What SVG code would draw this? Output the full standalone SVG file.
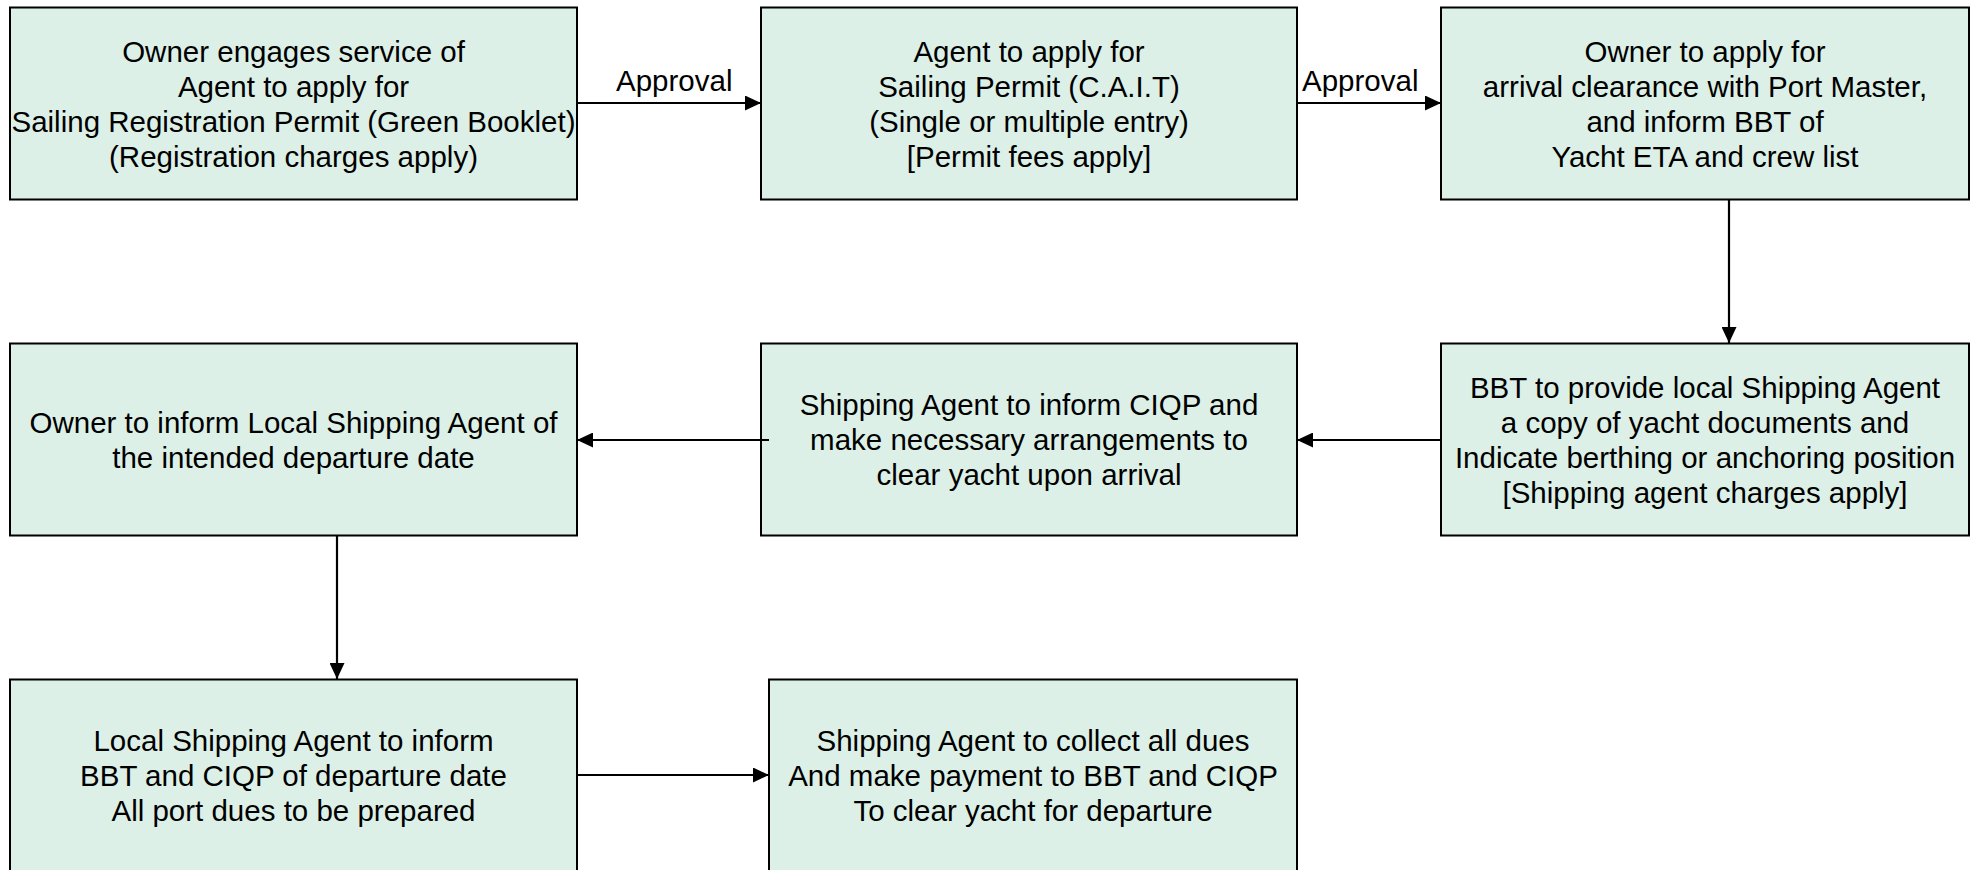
<svg xmlns="http://www.w3.org/2000/svg" width="1973" height="870" viewBox="0 0 1973 870">
<style>
.box{fill:#DCF0E7;stroke:#000;stroke-width:2}
.t{font-family:"Liberation Sans",Arial,sans-serif;font-size:29.5px;fill:#000;text-anchor:middle}
.lbl{font-family:"Liberation Sans",Arial,sans-serif;font-size:29.5px;fill:#000}
.c{stroke:#000;stroke-width:2.2;fill:none;marker-end:url(#ah)}
</style>
<defs>
<marker id="ah" markerUnits="userSpaceOnUse" markerWidth="16" markerHeight="15" refX="16" refY="7.5" orient="auto">
<path d="M0,0 L16,7.5 L0,15 Z" fill="#000"/>
</marker>
</defs>
<rect width="1973" height="870" fill="#fff"/>
<g id="n1">
<rect class="box" x="10" y="7.5" width="567" height="192"/>
<text class="t" x="293.5" y="62">Owner engages service of</text>
<text class="t" x="293.5" y="97">Agent to apply for</text>
<text class="t" x="293.5" y="132">Sailing Registration Permit (Green Booklet)</text>
<text class="t" x="293.5" y="167">(Registration charges apply)</text>
</g>
<g id="n2">
<rect class="box" x="761" y="7.5" width="536" height="192"/>
<text class="t" x="1029" y="62">Agent to apply for</text>
<text class="t" x="1029" y="97">Sailing Permit (C.A.I.T)</text>
<text class="t" x="1029" y="132">(Single or multiple entry)</text>
<text class="t" x="1029" y="167">[Permit fees apply]</text>
</g>
<g id="n3">
<rect class="box" x="1441" y="7.5" width="528" height="192"/>
<text class="t" x="1705" y="62">Owner to apply for</text>
<text class="t" x="1705" y="97">arrival clearance with Port Master,</text>
<text class="t" x="1705" y="132">and inform BBT of</text>
<text class="t" x="1705" y="167">Yacht ETA and crew list</text>
</g>
<g id="n4">
<rect class="box" x="1441" y="343.5" width="528" height="192"/>
<text class="t" x="1705" y="398">BBT to provide local Shipping Agent</text>
<text class="t" x="1705" y="433">a copy of yacht documents and</text>
<text class="t" x="1705" y="468">Indicate berthing or anchoring position</text>
<text class="t" x="1705" y="503">[Shipping agent charges apply]</text>
</g>
<g id="n5">
<rect class="box" x="761" y="343.5" width="536" height="192"/>
<text class="t" x="1029" y="415">Shipping Agent to inform CIQP and</text>
<text class="t" x="1029" y="450">make necessary arrangements to</text>
<text class="t" x="1029" y="485">clear yacht upon arrival</text>
</g>
<g id="n6">
<rect class="box" x="10" y="343.5" width="567" height="192"/>
<text class="t" x="293.5" y="433">Owner to inform Local Shipping Agent of</text>
<text class="t" x="293.5" y="468">the intended departure date</text>
</g>
<g id="n7">
<rect class="box" x="10" y="679.5" width="567" height="192"/>
<text class="t" x="293.5" y="751">Local Shipping Agent to inform</text>
<text class="t" x="293.5" y="786">BBT and CIQP of departure date</text>
<text class="t" x="293.5" y="821">All port dues to be prepared</text>
</g>
<g id="n8">
<rect class="box" x="769" y="679.5" width="528" height="192"/>
<text class="t" x="1033" y="751">Shipping Agent to collect all dues</text>
<text class="t" x="1033" y="786">And make payment to BBT and CIQP</text>
<text class="t" x="1033" y="821">To clear yacht for departure</text>
</g>
<g id="connectors">
<line class="c" x1="577" y1="103" x2="761" y2="103"/>
<text class="lbl" x="616" y="91">Approval</text>
<line class="c" x1="1297" y1="103" x2="1441" y2="103"/>
<text class="lbl" x="1302" y="91">Approval</text>
<line class="c" x1="1729" y1="199" x2="1729" y2="343"/>
<line class="c" x1="1441" y1="440" x2="1297" y2="440"/>
<line class="c" x1="769" y1="440" x2="577" y2="440"/>
<line class="c" x1="337" y1="535" x2="337" y2="679"/>
<line class="c" x1="577" y1="775" x2="769" y2="775"/>
</g>
</svg>
